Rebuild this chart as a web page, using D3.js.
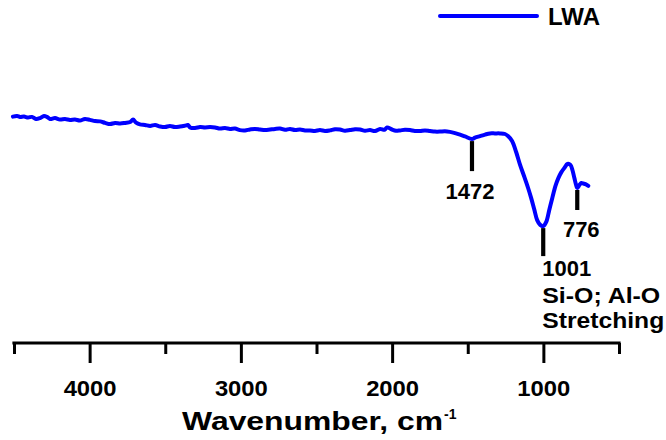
<!DOCTYPE html>
<html>
<head>
<meta charset="utf-8">
<script src="https://cdn.jsdelivr.net/npm/d3@7"></script>
<style>
  html, body { margin: 0; padding: 0; background: #fff; }
  svg { display: block; }
  text { font-family: Arial, "Liberation Sans", sans-serif; font-weight: bold; fill: #000; }
</style>
</head>
<body>
<svg id="chart" width="666" height="440"></svg>
<script>
// ---- data ----
const seriesName = "LWA";
const wavenumber = [
  4507, 4480, 4460, 4434, 4407, 4381, 4355, 4328, 4302, 4282, 4262, 4229, 4196, 4163, 4130, 4097, 4064, 4031, 3998, 3964,
  3931, 3898, 3865, 3832, 3798, 3765, 3732, 3713, 3693, 3667, 3634, 3600, 3567, 3534, 3502, 3469, 3436, 3402, 3369, 3350,
  3336, 3303, 3270, 3237, 3204, 3171, 3138, 3105, 3072, 3039, 3006, 2973, 2940, 2907, 2874, 2840, 2807, 2774, 2741, 2708,
  2675, 2642, 2609, 2576, 2543, 2510, 2477, 2444, 2411, 2378, 2345, 2312, 2279, 2245, 2212, 2179, 2146, 2113, 2080, 2050,
  2034, 2001, 1975, 1948, 1915, 1882, 1850, 1816, 1783, 1750, 1717, 1684, 1651, 1618, 1584, 1551,
  1518, 1472, 1452, 1419, 1386, 1353, 1320, 1287, 1254, 1234, 1207, 1180, 1154, 1128, 1101, 1081, 1061, 1041, 1021, 1001,
  981, 961, 941, 920, 901, 881, 861, 841, 821, 808, 795, 782, 776, 762, 749, 736, 722, 703
];
const transmittance = [
  77.8, 78.0, 77.7, 77.8, 77.5, 77.7, 77.0, 77.3, 78.0, 77.7, 77.0, 77.3, 76.8, 77.0, 76.7, 76.8, 76.5, 77.0, 76.7, 76.3,
  76.2, 75.7, 75.3, 75.7, 75.5, 75.7, 76.0, 76.8, 75.8, 75.2, 75.0, 74.7, 75.0, 74.5, 74.3, 74.7, 74.3, 74.5, 74.8, 75.0,
  74.2, 74.0, 74.3, 74.2, 74.3, 74.2, 73.8, 74.0, 73.7, 73.8, 73.3, 73.2, 73.5, 73.7, 73.5, 73.3, 73.5, 73.7, 73.8, 73.4,
  73.7, 73.3, 73.5, 73.2, 73.2, 73.0, 73.3, 73.0, 73.2, 73.6, 73.5, 73.1, 73.3, 73.6, 73.5, 73.1, 73.3, 73.0, 73.7, 73.4,
  74.2, 73.5, 73.1, 73.2, 73.4, 73.3, 73.0, 73.0, 73.2, 73.0, 72.8, 72.8, 72.9, 72.7, 72.3, 71.8,
  71.2, 70.3, 70.8, 71.3, 71.8, 72.2, 72.2, 72.2, 72.0, 71.3, 69.7, 66.0, 61.7, 58.0, 54.0, 50.7, 47.0, 43.3, 41.7, 41.3,
  42.7, 46.7, 50.7, 54.7, 57.3, 59.3, 60.7, 62.0, 61.7, 60.0, 57.3, 54.7, 54.0, 55.0, 55.7, 55.5, 55.3, 54.7
];
const majorTicks = [4000, 3000, 2000, 1000];
const minorTicks = [4500, 3500, 2500, 1500, 500];
const peakWavenumbers = [1472, 1001, 776];
const peakLabels = ["1472", "1001", "776"];
const assignmentLines = ["Si-O; Al-O", "Stretching"];
const xTitle = "Wavenumber, cm";
const xTitleSup = "-1";

// ---- chart ----
const svg = d3.select("#chart");
const x = d3.scaleLinear().domain([4500, 500]).range([14, 619]);
const y = d3.scaleLinear().domain([40, 80]).range([230, 110]);
const axisY = 343;

const points = wavenumber.map((w, i) => ({ w, t: transmittance[i] }));
const valueAt = w => points.find(p => p.w === w).t;

// minor ticks (incl. ends)
const minorAxis = d3.axisBottom(x).tickValues(minorTicks).tickSize(11).tickSizeOuter(0).tickFormat("");
const gMinor = svg.append("g").attr("transform", `translate(0,${axisY})`).call(minorAxis);
gMinor.select(".domain").remove();
gMinor.selectAll(".tick line").attr("stroke", "#000").attr("stroke-width", 3);

const majorAxis = d3.axisBottom(x).tickValues(majorTicks).tickSize(20).tickSizeOuter(0).tickPadding(17).tickFormat(d3.format("d"));
const gMajor = svg.append("g").attr("transform", `translate(0,${axisY})`).call(majorAxis);
gMajor.select(".domain").attr("stroke", "#000").attr("stroke-width", 3.2).attr("stroke-linecap", "square")
  .attr("d", `M${x(4500)},0H${x(500)}`);
gMajor.selectAll(".tick line").attr("stroke", "#000").attr("stroke-width", 3);
gMajor.selectAll(".tick text")
  .attr("font-size", 22).attr("font-family", "Arial, 'Liberation Sans', sans-serif").attr("font-weight", "bold")
  .attr("fill", "#000").attr("dy", "0.71em").attr("textLength", 53).attr("lengthAdjust", "spacingAndGlyphs");

// x title
svg.append("text").attr("x", 182).attr("y", 430).attr("font-size", 26)
  .attr("textLength", 261).attr("lengthAdjust", "spacingAndGlyphs").text(xTitle);
svg.append("text").attr("x", 444).attr("y", 419).attr("font-size", 14).text(xTitleSup);

// spectrum line
const line = d3.line().x(d => x(d.w)).y(d => y(d.t)).curve(d3.curveCatmullRom.alpha(0.5));
svg.append("path").datum(points)
  .attr("fill", "none").attr("stroke", "#0000FF").attr("stroke-width", 4)
  .attr("stroke-linejoin", "round").attr("stroke-linecap", "round")
  .attr("d", line);

// peak annotations
const annLen = [30, 28, 20];
peakWavenumbers.forEach((w, i) => {
  const px = x(w);
  const top = y(valueAt(w)) + 2;
  const bottom = top + annLen[i];
  svg.append("line").attr("x1", px).attr("x2", px).attr("y1", top).attr("y2", bottom)
    .attr("stroke", "#000").attr("stroke-width", 4.2);
  if (i === 0) {
    svg.append("text").attr("x", px - 2).attr("y", bottom + 28).attr("text-anchor", "middle")
      .attr("font-size", 22).text(peakLabels[i]);
  } else if (i === 1) {
    svg.append("text").attr("x", px - 1).attr("y", bottom + 20)
      .attr("font-size", 22).text(peakLabels[i]);
    assignmentLines.forEach((s, j) => {
      svg.append("text").attr("x", px - 1).attr("y", bottom + 47 + j * 25)
        .attr("font-size", 22).attr("textLength", j === 0 ? 118 : 122)
        .attr("lengthAdjust", "spacingAndGlyphs").text(s);
    });
  } else {
    svg.append("text").attr("x", px + 4).attr("y", bottom + 27).attr("text-anchor", "middle")
      .attr("font-size", 22).text(peakLabels[i]);
  }
});

// legend
svg.append("line").attr("x1", 440).attr("x2", 537).attr("y1", 16).attr("y2", 16)
  .attr("stroke", "#0000FF").attr("stroke-width", 4).attr("stroke-linecap", "round");
svg.append("text").attr("x", 548).attr("y", 25).attr("font-size", 24).text(seriesName);
</script>
</body>
</html>
